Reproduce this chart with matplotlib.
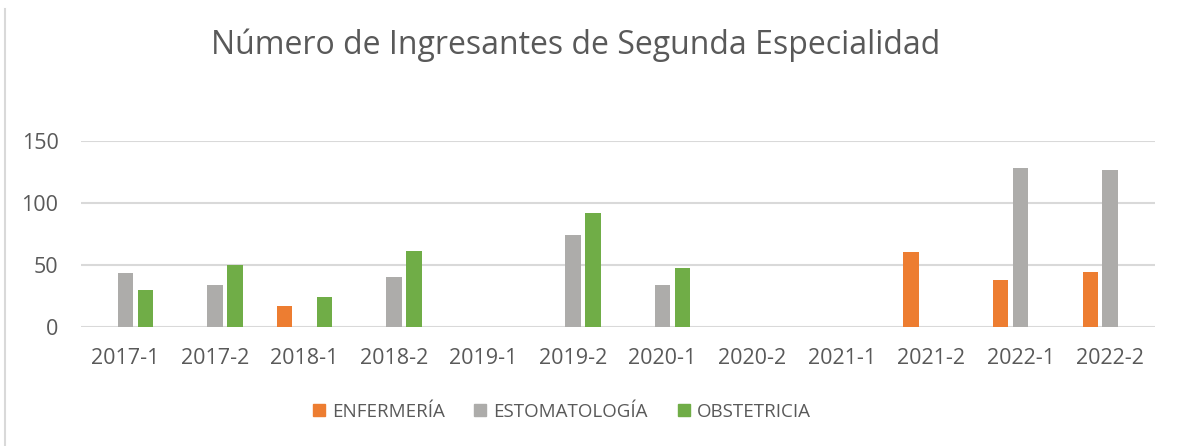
import numpy as np
import matplotlib
matplotlib.use("Agg")
import matplotlib.pyplot as plt
from matplotlib.lines import Line2D

# Data
periodos = ["2017-1", "2017-2", "2018-1", "2018-2", "2019-1", "2019-2",
            "2020-1", "2020-2", "2021-1", "2021-2", "2022-1", "2022-2"]
enfermeria = [0, 0, 17, 0, 0, 0, 0, 0, 0, 60, 38, 44]
estomatologia = [43, 34, 0, 40, 0, 74, 34, 0, 0, 0, 128, 126]
obstetricia = [30, 50, 24, 61, 0, 92, 47, 0, 0, 0, 0, 0]

series = [("ENFERMERÍA", enfermeria, "#ED7D31"),
          ("ESTOMATOLOGÍA", estomatologia, "#ADACAA"),
          ("OBSTETRICIA", obstetricia, "#70AD47")]

plt.rcParams['font.family'] = ['Open Sans', 'DejaVu Sans']
txt = "#595959"

W, H = 1182, 446
fig = plt.figure(figsize=(W / 100, H / 100), dpi=100)
ax = fig.add_axes([80.7 / W, 1 - 326.7 / H, (1155 - 80.7) / W, (326.7 - 140.7) / H])

x = np.arange(len(periodos))
pitch = 0.223
width = 0.173
for i, (name, vals, col) in enumerate(series):
    ax.bar(x + (i - 1) * pitch, vals, width, color=col, label=name, zorder=3)

ax.set_xlim(-0.5, len(periodos) - 0.5)
ax.set_ylim(0, 150)
ax.set_yticks([0, 50, 100, 150])
ax.set_xticks(x)
ax.set_xticklabels(periodos)
ax.yaxis.grid(True, color="#D9D9D9", linewidth=1.5, zorder=0)
ax.tick_params(axis="both", length=0, labelsize=15.5, labelcolor=txt)
ax.tick_params(axis="x", pad=15)
ax.tick_params(axis="y", pad=16)
for s in ax.spines.values():
    s.set_visible(False)

fig.text(576 / W, 1 - 45 / H, "Número de Ingresantes de Segunda Especialidad",
         ha="center", va="center", fontsize=23, color=txt)

handles = [Line2D([], [], marker="s", linestyle="none", markersize=9,
                  markerfacecolor=c, markeredgecolor=c) for _, _, c in series]
fig.legend(handles, [n for n, _, _ in series], loc="center",
           bbox_to_anchor=(561 / W, 1 - 412 / H), ncol=3, frameon=False,
           fontsize=13.5, labelcolor=txt, handlelength=0.8, handletextpad=0.3,
           columnspacing=1.5)

# chart border on the left edge
fig.add_artist(Line2D([5 / W, 5 / W], [0, 1 - 9 / H], color="#D9D9D9", linewidth=1.5))

fig.savefig("out.png", dpi=100)
